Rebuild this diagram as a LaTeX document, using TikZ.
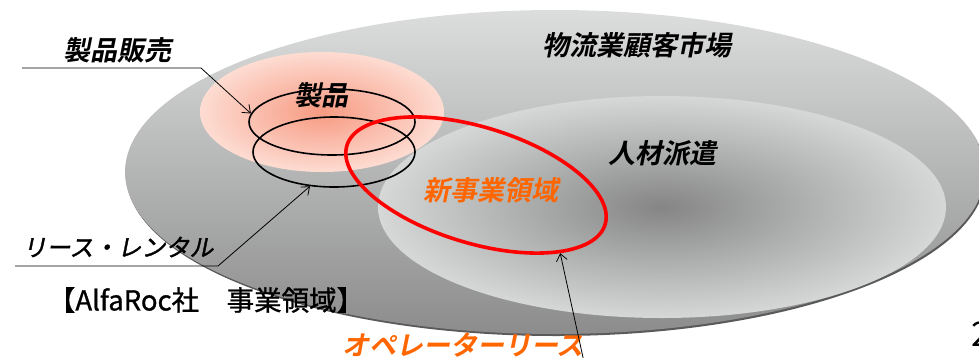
\documentclass[tikz,border=0pt]{standalone}
\usepackage{fontspec}
\usetikzlibrary{arrows.meta,shapes.geometric}
\newfontfamily\jp{Noto Sans CJK JP}
\newfontfamily\jpbi{Noto Sans CJK JP}[UprightFont=* Bold,FakeSlant=0.2]
\newfontfamily\jpi{Noto Sans CJK JP}[FakeSlant=0.2,FakeBold=1.5]
\newfontfamily\jpm{Noto Sans CJK JP}[FakeBold=1]
\definecolor{orng}{HTML}{FF6600}
\definecolor{diskTop}{HTML}{DCDDDD}
\definecolor{diskBot}{HTML}{8C8C8C}
\definecolor{rimDark}{HTML}{5A5A5A}
\definecolor{innerC}{HTML}{858585}
\definecolor{innerO}{HTML}{D6D8D8}
\definecolor{pinkC}{HTML}{F79A82}
\definecolor{pinkO}{HTML}{FDDCD2}
\begin{document}
\begin{tikzpicture}[x=1pt,y=-1pt,
  lbl/.style={inner sep=0pt, font=\jpbi\fontsize{27}{27}\selectfont},
  ring/.style={draw, ellipse, inner sep=0pt, line width=1.6pt},
  arr/.style={-{Straight Barb[length=7pt,width=11pt]}, line width=0.8pt}]
\useasboundingbox (0,0) rectangle (979,357);
% market disk
\fill[rimDark] (556,174) ellipse [x radius=430, y radius=162];
\shade[top color=diskTop, bottom color=diskBot] (555,172) ellipse [x radius=430, y radius=162];
% staffing disk
\shade[inner color=innerC, outer color=innerO] (662,207) ellipse [x radius=284, y radius=111];
% product glow
\shade[inner color=pinkC, outer color=pinkO] (322,112) ellipse [x radius=122, y radius=60];
% rings
\node[ring, minimum width=166pt, minimum height=66pt] (prod) at (332,122) {};
\node[ring, minimum width=162pt, minimum height=70pt] (lease) at (334,152) {};
\node[ring, draw=red, line width=3.6pt, minimum width=270pt, minimum height=116pt, rotate=-17] (newbiz) at (476,185) {};
% labels
\node[lbl] (sales) at (117,50) {製品販売};
\node[lbl] (prodlbl) at (321,95) {製品};
\node[lbl] (market) at (637,45) {物流業顧客市場};
\node[lbl] (staff) at (662,153) {人材派遣};
\node[lbl, text=orng] (newlbl) at (491,190) {新事業領域};
\node[inner sep=0pt, font=\jpi\fontsize{24}{24}\selectfont] (leaselbl) at (118,247) {リース・レンタル};
\node[inner sep=0pt, font=\jpm\fontsize{27.5}{27.5}\selectfont] (title) at (206,300) {【AlfaRoc社　事業領域】};
\node[lbl, text=orng] (oplbl) at (463,345) {オペレーターリース};
\node[inner sep=0pt, anchor=west, font=\jp\fontsize{34}{34}\selectfont] (pg) at (971,334) {2};
% connectors
\coordinate (s1) at (22,68);
\coordinate (s2) at (201,68);
\draw[arr] (s1) -- (s2) -- (prod.174);
\coordinate (l1) at (15,266);
\coordinate (l2) at (218,266);
\draw[arr] (l1) -- (l2) -- (lease.235);
\coordinate (o1) at (584,362);
\draw[arr] (o1) -- (newbiz.-22);
\end{tikzpicture}
\end{document}
